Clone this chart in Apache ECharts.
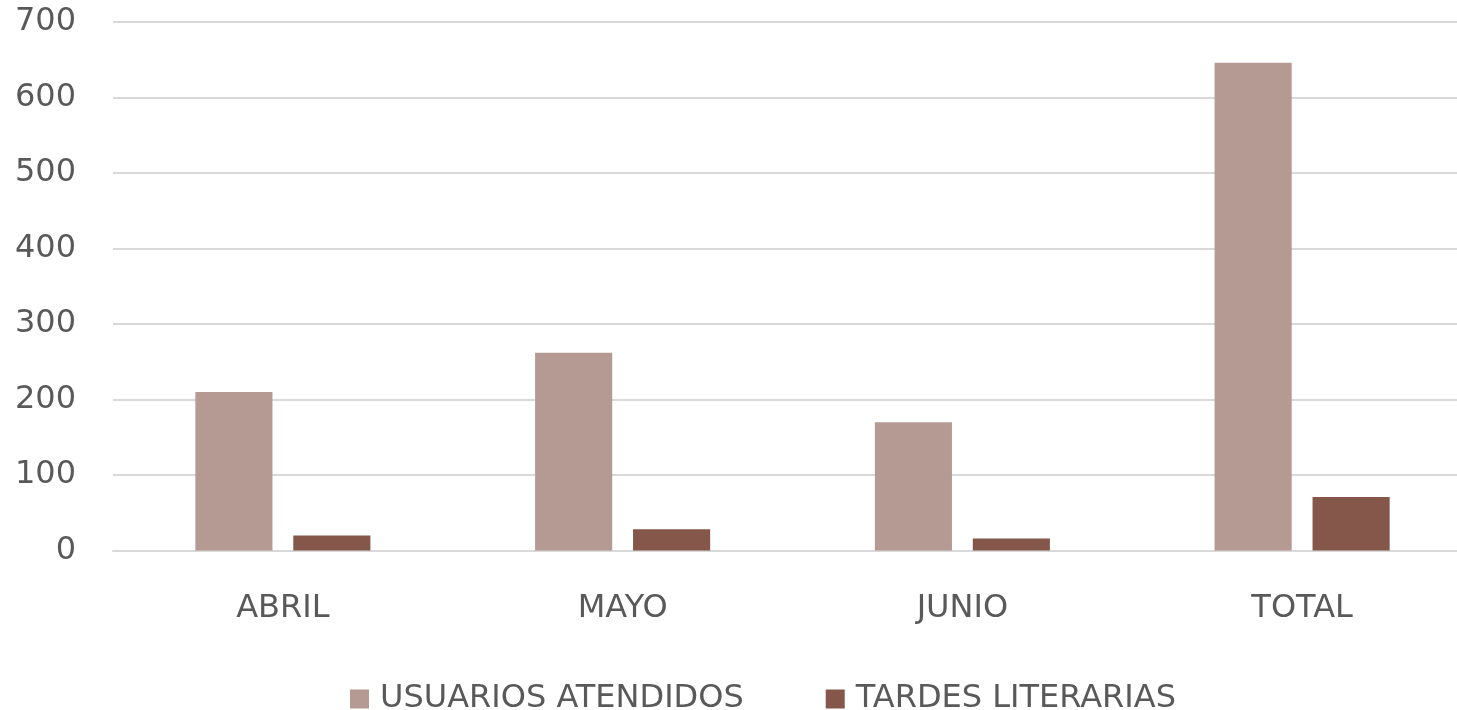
<!DOCTYPE html>
<html>
<head>
<meta charset="utf-8">
<script src="https://cdn.jsdelivr.net/npm/echarts@6/dist/echarts.min.js"></script>
<style>html,body{margin:0;padding:0;background:#fff;overflow:hidden;width:1457px;height:710px}#c{width:1472px;height:710px}</style>
</head>
<body>
<div id="c"></div>
<script>
const categories = ['ABRIL', 'MAYO', 'JUNIO', 'TOTAL'];
const usuariosAtendidos = [210, 262, 170, 646];
const tardesLiterarias = [20, 28, 16, 71];
const seriesNames = ['USUARIOS ATENDIDOS', 'TARDES LITERARIAS'];

const FONT = 'DejaVu Sans';
const chart = echarts.init(document.getElementById('c'), null, {renderer: 'canvas'});
chart.setOption({
  animation: false,
  color: ['#B49A92', '#84574A'],
  grid: {left: 113, right: 0, top: 22, bottom: 159.5, containLabel: false},
  legend: {
    top: 678,
    left: 345,
    itemWidth: 19, itemHeight: 19, itemGap: 82,
    icon: 'rect',
    textStyle: {fontFamily: FONT, fontSize: 32, color: '#595959', padding: [0,0,0,6]},
    data: seriesNames
  },
  xAxis: {
    type: 'category',
    data: categories,
    axisLine: {lineStyle: {color: '#D9D9D9', width: 2}},
    axisTick: {show: false},
    axisLabel: {fontFamily: FONT, fontSize: 32, color: '#595959', margin: 42}
  },
  yAxis: {
    type: 'value',
    min: 0, max: 700, interval: 100,
    axisLine: {show: false},
    axisTick: {show: false},
    axisLabel: {fontFamily: FONT, fontSize: 32, color: '#595959', margin: 37},
    splitLine: {lineStyle: {color: '#D9D9D9', width: 2}}
  },
  series: [
    {name: seriesNames[0], type: 'bar', data: usuariosAtendidos, barWidth: '22.7%', barGap: '27%'},
    {name: seriesNames[1], type: 'bar', data: tardesLiterarias, barWidth: '22.7%', barGap: '27%'}
  ]
});
</script>
</body>
</html>
